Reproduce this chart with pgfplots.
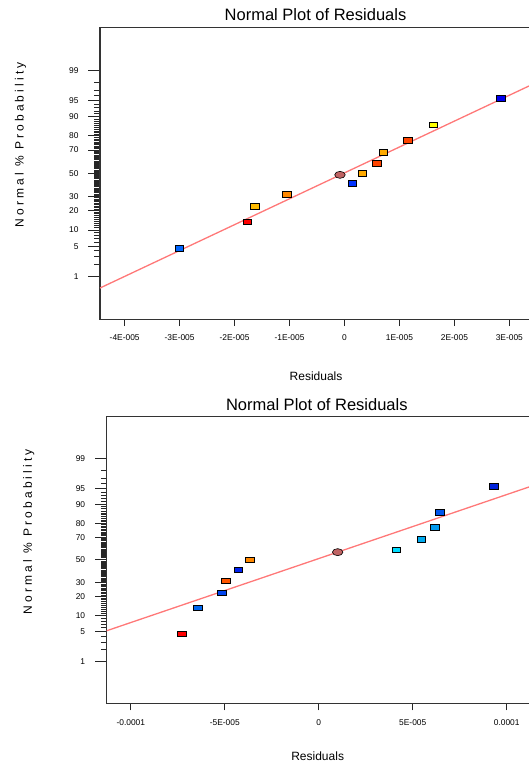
\documentclass[border=0pt]{standalone}
\usepackage{fontspec}
\setmainfont{Liberation Sans}
\usepackage{pgfplots}
\pgfplotsset{compat=1.18}

% line, mean marker
\definecolor{fitline}{HTML}{FF7878}
\definecolor{circ}{HTML}{C06464}
% upper plot points
\definecolor{tA}{HTML}{0066FF}
\definecolor{tB}{HTML}{FF0000}
\definecolor{tC}{HTML}{FFBB00}
\definecolor{tD}{HTML}{FF8800}
\definecolor{tE}{HTML}{0033FF}
\definecolor{tF}{HTML}{FFAA00}
\definecolor{tG}{HTML}{FF4400}
\definecolor{tH}{HTML}{FFAA00}
\definecolor{tI}{HTML}{FF4400}
\definecolor{tJ}{HTML}{FFFF00}
\definecolor{tK}{HTML}{0000EE}
% lower plot points
\definecolor{bA}{HTML}{FF0000}
\definecolor{bB}{HTML}{0066EE}
\definecolor{bC}{HTML}{0044EE}
\definecolor{bD}{HTML}{FF5500}
\definecolor{bE}{HTML}{0022EE}
\definecolor{bF}{HTML}{FF8800}
\definecolor{bG}{HTML}{00DDFF}
\definecolor{bH}{HTML}{00AAEE}
\definecolor{bI}{HTML}{0099EE}
\definecolor{bJ}{HTML}{0055EE}
\definecolor{bK}{HTML}{0022DD}

\pgfplotsset{
  normplot/.style={
    scale only axis, anchor=south west,
    ymin=-3.29, ymax=3.29,
    tick pos=left, tick align=outside,
    axis line style={black!80, line width=1.1pt},
    tick style={black!85, line width=1pt},
    minor tick style={line width=0.8pt},
    xtick style={/pgfplots/major tick length=7pt},
    ytick style={/pgfplots/major tick length=11.5pt},
    minor tick length=5.7pt,
    scaled x ticks=false,
    % probit positions of the percent ticks
    ytick={-2.3263,-1.6449,-1.2816,-0.8416,-0.5244,0,0.5244,0.8416,1.2816,1.6449,2.3263},
    yticklabels={1,5,10,20,30,50,70,80,90,95,99},
    minor ytick={-2.0537,-1.8808,-1.7507,-1.5548,-1.4758,-1.4051,-1.3408,
      -1.2265,-1.1750,-1.1264,-1.0803,-1.0364,-0.9945,-0.9542,-0.9154,-0.8779,
      -0.8064,-0.7722,-0.7388,-0.7063,-0.6745,-0.6433,-0.6128,-0.5828,-0.5534,
      -0.4959,-0.4677,-0.4399,-0.4125,-0.3853,-0.3585,-0.3319,-0.3055,-0.2793,
      -0.2533,-0.2275,-0.2019,-0.1764,-0.1510,-0.1257,-0.1004,-0.0753,-0.0502,-0.0251,
      0.0251,0.0502,0.0753,0.1004,0.1257,0.1510,0.1764,0.2019,0.2275,0.2533,
      0.2793,0.3055,0.3319,0.3585,0.3853,0.4125,0.4399,0.4677,0.4959,
      0.5534,0.5828,0.6128,0.6433,0.6745,0.7063,0.7388,0.7722,0.8064,
      0.8779,0.9154,0.9542,0.9945,1.0364,1.0803,1.1264,1.1750,1.2265,
      1.3408,1.4051,1.4758,1.5548,1.7507,1.8808,2.0537},
    tick label style={font=\fontsize{8.4}{10}\selectfont},
    yticklabel style={xshift=-13.7pt},
    xticklabel style={yshift=-8pt},
    title style={font=\fontsize{16.5}{19}\selectfont, anchor=base, yshift=-6pt},
    label style={font=\fontsize{12}{14}\selectfont},
    xlabel style={anchor=base},
    ylabel style={anchor=center},
    title={Normal Plot of Residuals},
    xlabel={Residuals},
    ylabel={\addfontfeature{LetterSpace=26}Normal \% Probability},
  },
  pts/.style={scatter, only marks, mark=square*, mark size=2.7pt,
    mark options={xscale=1.6, draw=black, line width=0.6pt},
    point meta=explicit symbolic},
  avg/.style={only marks, mark=*, mark size=3.5pt,
    mark options={xscale=1.5, fill=circ, draw=black, line width=0.6pt}},
}

\begin{document}
\begin{tikzpicture}
\useasboundingbox (0,0) rectangle (529pt,763pt);

\begin{axis}[normplot,
  at={(100pt,443.9pt)}, width=440pt, height=291.6pt,
  xmin=-4.449e-5, xmax=3.558e-5,
  xtick={-4e-5,-3e-5,-2e-5,-1e-5,0,1e-5,2e-5,3e-5},
  xticklabels={-4E-005,-3E-005,-2E-005,-1E-005,0,1E-005,2E-005,3E-005},
  title style={at={(rel axis cs:0.4898,1.0226)}},
  xlabel style={at={(rel axis cs:0.491,-0.2092)}},
  ylabel style={at={(rel axis cs:-0.1807,0.597)}},
]
\addplot[fitline, line width=1.3pt, no marks] coordinates {(-4.449e-5,-2.589) (3.558e-5,2.087)};
\addplot[pts, scatter/classes={a={fill=tA},b={fill=tB},c={fill=tC},d={fill=tD},e={fill=tE},
  f={fill=tF},g={fill=tG},h={fill=tH},i={fill=tI},j={fill=tJ},k={fill=tK}}] coordinates {
  (-3.006e-5,-1.6906) [a]
  (-1.769e-5,-1.0968) [b]
  (-1.629e-5,-0.7479) [c]
  (-1.052e-5,-0.4728) [d]
  (0.142e-5,-0.2299) [e]
  (0.324e-5,0) [f]
  (0.591e-5,0.2299) [g]
  (0.706e-5,0.4728) [h]
  (1.150e-5,0.7479) [i]
  (1.616e-5,1.0968) [j]
  (2.848e-5,1.6906) [k]
};
\addplot[avg] coordinates {(-0.082e-5,-0.035)};
\end{axis}

\begin{axis}[normplot,
  at={(106.6pt,59.6pt)}, width=433.4pt, height=286.8pt,
  xmin=-11.29e-5, xmax=11.77e-5,
  xtick={-1e-4,-5e-5,0,5e-5,1e-4},
  xticklabels={-0.0001,-5E-005,0,5E-005,0.0001},
  title style={at={(rel axis cs:0.485,1.0227)}},
  xlabel style={at={(rel axis cs:0.487,-0.1995)}},
  ylabel style={at={(rel axis cs:-0.1797,0.598)}},
]
\addplot[fitline, line width=1.3pt, no marks] coordinates {(-11.29e-5,-1.624) (11.77e-5,1.761)};
\addplot[pts, scatter/classes={a={fill=bA},b={fill=bB},c={fill=bC},d={fill=bD},e={fill=bE},
  f={fill=bF},g={fill=bG},h={fill=bH},i={fill=bI},j={fill=bJ},k={fill=bK}}] coordinates {
  (-7.29e-5,-1.6906) [a]
  (-6.44e-5,-1.0968) [b]
  (-5.16e-5,-0.7479) [c]
  (-4.94e-5,-0.4728) [d]
  (-4.28e-5,-0.2299) [e]
  (-3.66e-5,0) [f]
  (4.12e-5,0.2299) [g]
  (5.45e-5,0.4728) [h]
  (6.16e-5,0.7479) [i]
  (6.43e-5,1.0968) [j]
  (9.31e-5,1.6906) [k]
};
\addplot[avg] coordinates {(1.005e-5,0.18)};
\end{axis}
\end{tikzpicture}
\end{document}
